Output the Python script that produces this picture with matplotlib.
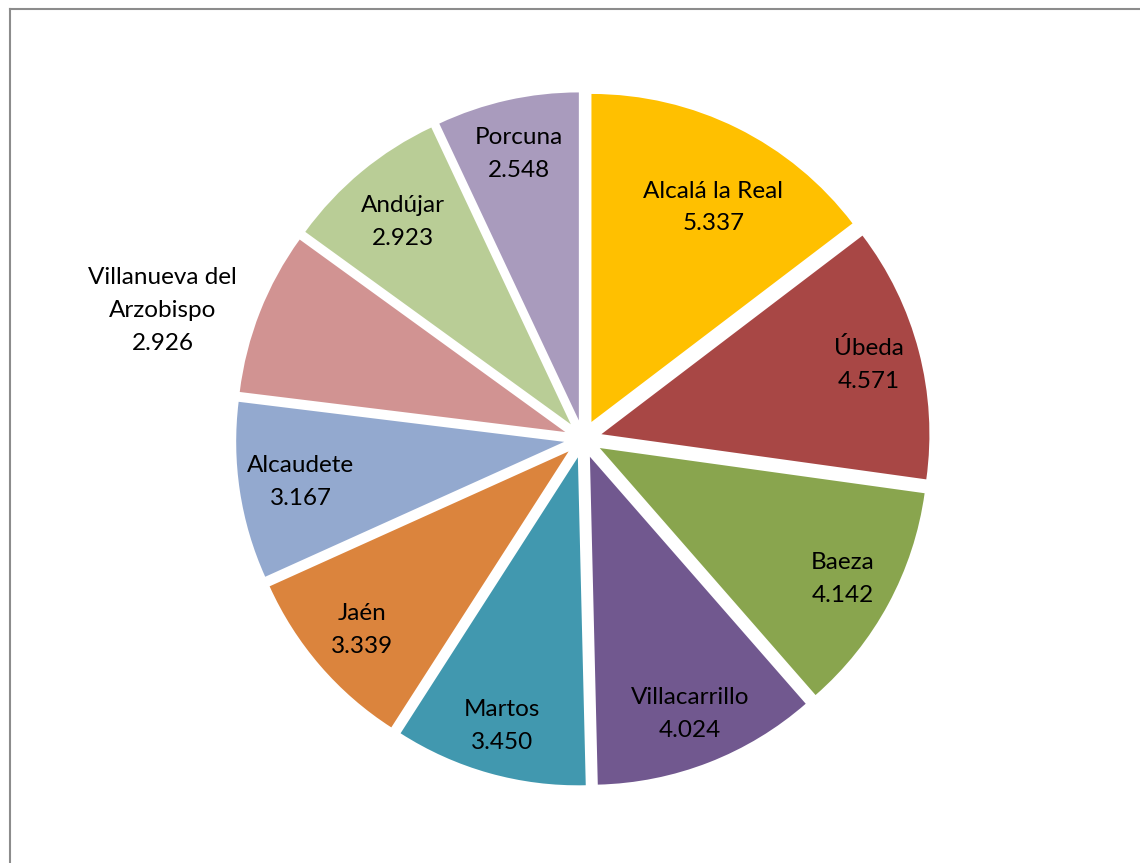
import numpy as np
import matplotlib
matplotlib.use('Agg')
from matplotlib import pyplot as plt
from matplotlib.lines import Line2D

# municipios y valores (sentido horario desde arriba)
towns = ['Alcalá la Real', 'Úbeda', 'Baeza', 'Villacarrillo', 'Martos',
         'Jaén', 'Alcaudete', 'Villanueva del\nArzobispo', 'Andújar', 'Porcuna']
values = [5.337, 4.571, 4.142, 4.024, 3.450, 3.339, 3.167, 2.926, 2.923, 2.548]
value_labels = ['5.337', '4.571', '4.142', '4.024', '3.450',
                '3.339', '3.167', '2.926', '2.923', '2.548']

colors = ['#FFC000', '#A84745', '#89A54E', '#71588F', '#4198AF',
          '#DB843D', '#93A9CF', '#D19392', '#B9CD96', '#A99BBD']

# posicion de etiquetas: distancia al centro (radios) y giro (grados)
label_r = [0.81, 0.90, 0.90, 0.90, 0.91, 0.89, 0.87, 1.34, 0.86, 0.89]
label_turn = [-3, 0, 0, 0, 0, 0, 0, 4.5, 0, 0]

W, H = 1140, 863
fig = plt.figure(figsize=(W / 100, H / 100), dpi=100)
plt.rcParams['font.family'] = ['Lato', 'DejaVu Sans']

cx, cy, R = 583, 439, 328   # centro y radio en pixeles
L = 1.5
ax = fig.add_axes([(cx - L * R) / W, (H - cy - L * R) / H, 2 * L * R / W, 2 * L * R / H])

wedges, _ = ax.pie(values, colors=colors, startangle=90, counterclock=False,
                   explode=[0.058] * len(values), radius=1)
ax.set_xlim(-L, L)
ax.set_ylim(-L, L)
ax.axis('off')

for w, town, val, r, t in zip(wedges, towns, value_labels, label_r, label_turn):
    ang = np.deg2rad((w.theta1 + w.theta2) / 2 + t)
    ax.text(r * np.cos(ang), r * np.sin(ang), town + '\n' + val,
            ha='center', va='center', fontsize=17.5, linespacing=1.7, color='black')

# marco (solo arriba e izquierda visibles)
fig.add_artist(Line2D([9.5 / W, 1], [1 - 9.5 / H, 1 - 9.5 / H], color='#8c8c8c', lw=1.5,
                      transform=fig.transFigure))
fig.add_artist(Line2D([9.5 / W, 9.5 / W], [0, 1 - 9.5 / H], color='#8c8c8c', lw=1.5,
                      transform=fig.transFigure))

fig.savefig('out.png', dpi=100, facecolor='white')
